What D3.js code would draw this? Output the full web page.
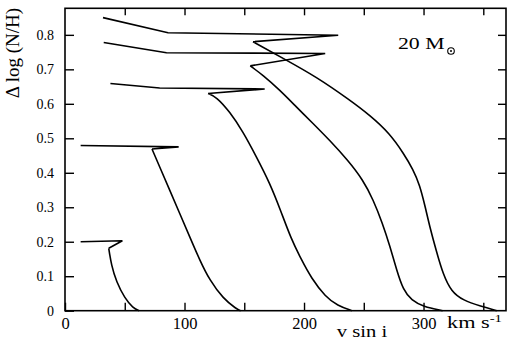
<!DOCTYPE html>
<html><head><meta charset="utf-8">
<script src="https://cdn.jsdelivr.net/npm/d3@7"></script>
<style>
body{margin:0;background:#fff}
svg{display:block}
</style>
</head><body>
<svg id="chart" width="518" height="354"></svg>
<script>
// ---- data (v sin i in km/s, Δlog(N/H)) ----
const xTickValues = [0, 50, 100, 150, 200, 250, 300, 350];
const xTickLabels = [0, 100, 200, 300];
const yTickValues = [0, 0.1, 0.2, 0.3, 0.4, 0.5, 0.6, 0.7, 0.8];
const xTitle = "v sin i";
const xUnit = "km s";
const xUnitSup = "-1";
const yTitle = "Δ log (N/H)";
const massLabel = "20 M";

const track1 = [[13.1,0.200],[48.0,0.203],[36.6,0.181],[38.8,0.132],[43.0,0.084],[50.0,0.036],[56.9,0.008],[62.0,0]];
const track2 = [[13.1,0.479],[95.1,0.475],[72.8,0.469],[79.2,0.417],[87.6,0.350],[96.0,0.282],[104.4,0.214],[112.7,0.147],[121.1,0.088],[132.2,0.036],[143.4,0.005],[147.0,0]];
const track3 = [[38.0,0.659],[79.2,0.646],[167.1,0.643],[119.7,0.630],[126.7,0.620],[137.8,0.577],[149.0,0.519],[160.2,0.446],[171.4,0.370],[180.5,0.290],[189.0,0.210],[197.5,0.150],[206.0,0.095],[218.0,0.040],[228.0,0.015],[240.0,0]];
const track4 = [[32.4,0.778],[84.9,0.748],[217.7,0.746],[155.0,0.710],[165.7,0.683],[179.7,0.640],[193.6,0.591],[207.5,0.543],[221.5,0.494],[236.5,0.437],[249.4,0.379],[258.0,0.321],[265.5,0.255],[272.0,0.186],[277.5,0.118],[283.0,0.060],[290.0,0.030],[299.6,0.012],[316.0,0]];
const track5 = [[31.8,0.850],[86.2,0.806],[228.6,0.799],[157.3,0.780],[182.4,0.732],[210.4,0.678],[238.2,0.611],[255.0,0.567],[271.7,0.514],[283.5,0.455],[291.2,0.410],[296.8,0.365],[301.5,0.300],[305.8,0.235],[310.8,0.172],[316.3,0.106],[323.3,0.055],[333.1,0.030],[348.0,0.013],[361.3,0]];
const tracks = [track1, track2, track3, track4, track5];

// ---- layout ----
const FONT = '"Liberation Serif","Times New Roman",serif';
const svg = d3.select("#chart");
const L = 65, R = 506, T = 8.3, B = 310.7;
const x = d3.scaleLinear().domain([0, 369]).range([L, R]);
const y = d3.scaleLinear().domain([0, 0.877]).range([B, T]);

svg.append("rect").attr("x", L).attr("y", T).attr("width", R - L).attr("height", B - T)
  .attr("fill", "none").attr("stroke", "#000").attr("stroke-width", 1.6);

function styleAxis(g){
  g.attr("font-family", FONT);
  g.select(".domain").remove();
  g.selectAll(".tick line").attr("stroke", "#000").attr("stroke-width", 1.4);
  g.selectAll("text").attr("fill", "#000");
}

svg.append("g").attr("transform", `translate(0,${B})`)
  .call(d3.axisBottom(x).tickValues(xTickValues).tickSize(-8).tickPadding(7)
    .tickFormat(d => xTickLabels.includes(d) ? String(d) : ""))
  .call(styleAxis)
  .call(g => g.attr("font-size", 16.5));
svg.append("g").attr("transform", `translate(0,${T})`)
  .call(d3.axisTop(x).tickValues(xTickValues.filter(d => d > 0)).tickSize(-7).tickFormat(""))
  .call(styleAxis);
svg.append("g").attr("transform", `translate(${L},0)`)
  .call(d3.axisLeft(y).tickValues(yTickValues).tickSize(-9).tickPadding(11)
    .tickFormat(d => d === 0 ? "0" : d.toFixed(1)))
  .call(styleAxis)
  .call(g => g.attr("font-size", 14));
svg.append("g").attr("transform", `translate(${R},0)`)
  .call(d3.axisRight(y).tickValues(yTickValues.filter(d => d > 0)).tickSize(-8).tickFormat(""))
  .call(styleAxis);

// tracks
const lin = d3.line().x(d => x(d[0])).y(d => y(d[1]));
const smooth = d3.line().x(d => x(d[0])).y(d => y(d[1])).curve(d3.curveBasis);
tracks.forEach(pts => {
  const tip = d3.maxIndex(pts.slice(0, 4), d => d[0]);
  const kink = tip + 1;
  const p = lin(pts.slice(0, kink + 1)) + smooth(pts.slice(kink));
  svg.append("path").attr("d", p).attr("fill", "none")
    .attr("stroke", "#000").attr("stroke-width", 1.6).attr("stroke-linejoin", "miter");
});

// titles
const T_ = (sel) => sel.attr("font-family", FONT).attr("fill", "#000");
svg.append("text").call(T_).attr("transform", `translate(362,337) scale(1.25,1)`)
  .attr("text-anchor", "middle").attr("font-size", 16.5).text(xTitle);
const ut = svg.append("text").call(T_).attr("transform", `translate(447,328) scale(1.35,1)`)
  .attr("font-size", 16.5);
ut.append("tspan").text(xUnit);
ut.append("tspan").attr("dy", -6).attr("font-size", 11).text(xUnitSup);

svg.append("text").call(T_).attr("transform", "translate(19,53) rotate(-90)")
  .attr("text-anchor", "middle").attr("font-size", 19).text(yTitle);

svg.append("text").call(T_).attr("transform", "translate(398,49) scale(1.28,1)")
  .attr("font-size", 17).text(massLabel);
svg.append("circle").attr("cx", 451).attr("cy", 51).attr("r", 3.3)
  .attr("fill", "none").attr("stroke", "#000").attr("stroke-width", 1.1);
svg.append("circle").attr("cx", 451).attr("cy", 51).attr("r", 1).attr("fill", "#000");
</script>
</body></html>
